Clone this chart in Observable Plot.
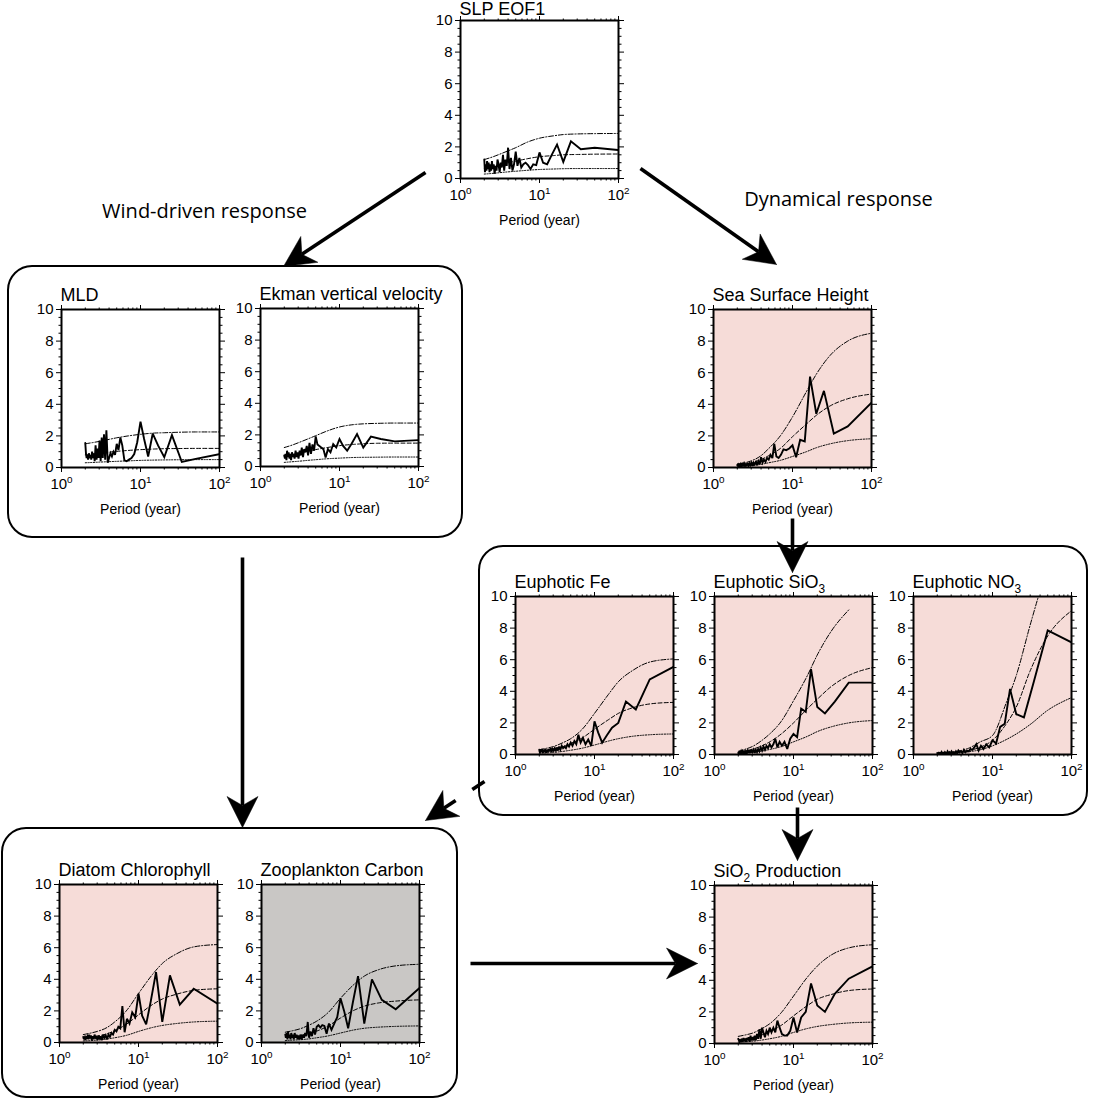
<!DOCTYPE html>
<html><head><meta charset="utf-8">
<script src="https://cdn.jsdelivr.net/npm/d3@7"></script>
<script src="https://cdn.jsdelivr.net/npm/@observablehq/plot@0.6"></script>
<style>
html,body{margin:0;padding:0;background:#fff;}
#fig{position:relative;width:1093px;height:1099px;overflow:hidden;background:#fff;}
#fig > div{position:absolute;}
</style></head><body><div id="fig"></div>
<script>
// ---------- data ----------
// spectral periods (years) of the solid spectrum, k = 1..50 cycles per 100 years
const periods = [100,50,33.33,25,20,16.67,14.29,12.5,11.11,10,9.09,8.33,7.69,7.14,6.67,6.25,5.88,5.56,5.26,5,
  4.76,4.55,4.35,4.17,4,3.85,3.7,3.57,3.45,3.33,3.23,3.13,3.03,2.94,2.86,2.78,2.7,2.63,2.56,2.5,
  2.44,2.38,2.33,2.27,2.22,2.17,2.13,2.08,2.04,2];
// periods at which the smooth reference curves are read
const curvePeriods = [2,2.5,3,4,5,7,10,15,20,30,50,100];
const yMajor = [0,2,4,6,8,10];
const yMinor = [0.5,1,1.5,2.5,3,3.5,4.5,5,5.5,6.5,7,7.5,8.5,9,9.5];
const xMajor = [1,10,100];
const xMinor = [2,3,4,5,6,7,8,9,20,30,40,50,60,70,80,90];

const slpSpec = [1.8,1.95,1.85,2.35,1.05,2.15,1.5,0.9,1.0,1.65,0.85,0.9,0.6,0.85,1.0,0.9,0.7,1.3,0.8,1.7,0.9,0.5,1.3,0.6,1.95,0.8,1.2,0.5,1.5,0.7,1.0,0.4,0.9,1.2,0.5,0.8,0.3,0.9,0.6,1.1,0.5,0.9,0.4,1.0,0.6,1.1,0.5,0.9,0.4,1.2];
const slpU = [1.2,1.35,1.5,1.75,1.95,2.3,2.55,2.7,2.78,2.82,2.84,2.85];
const slpM = [0.65,0.75,0.85,1.0,1.1,1.25,1.38,1.45,1.5,1.52,1.54,1.55];
const slpL = [0.28,0.32,0.36,0.42,0.46,0.52,0.57,0.6,0.62,0.63,0.63,0.63];

const mldSpec = [0.85,0.55,0.35,2.05,0.65,1.4,2.15,0.7,1.8,2.9,1.6,0.85,0.6,0.5,0.4,0.45,1.4,1.9,1.1,1.5,0.8,1.0,0.7,0.9,0.6,0.3,2.35,0.5,2.1,0.6,1.9,0.4,1.7,0.6,1.2,0.5,1.4,0.4,0.9,0.6,1.0,0.5,0.8,0.7,0.9,0.5,0.8,0.6,0.9,1.55];
const mldU = [1.5,1.58,1.65,1.78,1.88,2.0,2.1,2.18,2.2,2.23,2.25,2.25];
const mldM = [0.8,0.85,0.9,0.97,1.02,1.08,1.13,1.17,1.19,1.2,1.21,1.21];
const mldL = [0.3,0.32,0.34,0.37,0.39,0.42,0.45,0.47,0.48,0.49,0.5,0.5];

const ekSpec = [1.67,1.59,1.74,1.89,1.2,2.05,1.46,1.0,1.3,1.74,1.2,1.42,0.9,1.1,0.57,1.1,1.2,1.3,1.4,1.9,1.0,1.4,0.8,1.5,0.7,1.3,0.9,1.1,0.6,1.2,0.7,1.0,0.5,0.9,0.6,1.0,0.5,0.8,0.6,0.9,0.4,0.8,0.5,0.9,0.6,1.0,0.4,0.8,0.5,0.7];
const ekU = [1.2,1.35,1.5,1.75,1.95,2.25,2.5,2.65,2.7,2.73,2.75,2.75];
const ekM = [0.65,0.75,0.83,0.97,1.07,1.2,1.32,1.4,1.44,1.47,1.48,1.48];
const ekL = [0.26,0.3,0.33,0.39,0.43,0.49,0.53,0.57,0.58,0.59,0.6,0.6];

const sshSpec = [4.1,2.6,2.15,4.85,3.4,5.75,1.65,1.75,0.65,1.4,1.2,1.1,1.15,0.8,0.6,0.7,1.5,0.6,0.8,0.5,0.6,0.35,0.5,0.3,0.65,0.2,0.4,0.15,0.35,0.2,0.3,0.1,0.3,0.15,0.25,0.1,0.3,0.15,0.2,0.1,0.25,0.1,0.3,0.1,0.2,0.05,0.25,0.1,0.2,0.15];
const sshU = [0.2,0.3,0.42,0.75,1.2,2.0,3.2,4.8,5.9,7.1,8.0,8.5];
const sshM = [0.12,0.2,0.3,0.5,0.75,1.2,1.95,2.75,3.3,3.9,4.35,4.65];
const sshL = [0.05,0.08,0.12,0.2,0.3,0.45,0.7,1.0,1.25,1.5,1.7,1.82];

const feSpec = [5.55,4.75,2.85,3.35,2.0,1.7,1.2,0.75,1.4,2.1,0.55,0.95,0.65,1.05,0.75,1.25,0.65,0.85,0.55,0.75,0.5,0.65,0.4,0.5,0.4,0.55,0.3,0.5,0.25,0.45,0.2,0.4,0.25,0.35,0.15,0.4,0.2,0.35,0.15,0.3,0.1,0.35,0.15,0.3,0.1,0.35,0.15,0.3,0.1,0.3];
const feU = [0.3,0.4,0.5,0.75,1.0,1.6,2.6,3.8,4.6,5.3,5.85,6.05];
const feM = [0.2,0.27,0.35,0.5,0.7,1.05,1.6,2.2,2.6,2.95,3.2,3.3];
const feL = [0.07,0.1,0.13,0.2,0.27,0.4,0.6,0.85,1.0,1.15,1.25,1.3];

const sio3Spec = [4.55,4.55,3.35,2.6,3.0,5.4,2.7,2.9,1.1,1.3,1.0,0.35,0.8,0.55,0.8,0.45,1.0,0.65,0.45,0.65,0.4,0.55,0.3,0.5,0.25,0.45,0.2,0.35,0.15,0.3,0.1,0.3,0.15,0.25,0.1,0.3,0.1,0.25,0.1,0.2,0.05,0.25,0.1,0.2,0.05,0.2,0.1,0.15,0.05,0.1];
const sio3U = [0.2,0.35,0.5,0.9,1.3,2.1,3.4,5.0,6.3,7.8,9.15,null];
const sio3M = [0.13,0.22,0.33,0.55,0.8,1.3,2.0,2.9,3.5,4.3,5.0,5.5];
const sio3L = [0.05,0.08,0.13,0.22,0.32,0.5,0.8,1.15,1.45,1.75,2.0,2.15];

const no3Spec = [7.1,7.85,4.6,2.35,2.55,4.15,1.95,1.75,0.7,0.9,0.45,0.65,0.35,0.55,0.25,0.65,0.45,0.3,0.35,0.2,0.25,0.15,0.3,0.1,0.2,0.15,0.25,0.1,0.2,0.05,0.15,0.1,0.2,0.05,0.15,0.1,0.2,0.05,0.1,0.15,0.05,0.1,0.05,0.15,0.05,0.1,0.05,0.1,0.05,0.1];
const no3U = [0.05,0.08,0.12,0.25,0.4,0.8,1.2,3.3,5.0,8.2,12,null];
const no3M = [0.03,0.05,0.08,0.15,0.25,0.46,0.9,1.95,3.0,5.3,7.5,9.1];
const no3L = [0.02,0.03,0.05,0.1,0.17,0.3,0.55,0.95,1.3,1.9,2.8,3.6];

const diaSpec = [2.45,3.4,2.4,4.25,1.3,4.45,2.6,1.15,1.7,3.1,1.6,1.9,1.2,1.5,0.65,2.3,0.9,1.0,0.7,0.8,0.5,0.6,0.35,0.5,0.2,0.45,0.3,0.5,0.15,0.4,0.2,0.45,0.15,0.35,0.3,0.5,0.2,0.4,0.15,0.45,0.25,0.5,0.2,0.4,0.3,0.35,0.15,0.3,0.2,0.35];
const diaU = [0.5,0.6,0.7,0.95,1.3,2.0,3.1,4.3,5.0,5.6,6.05,6.2];
const diaM = [0.27,0.32,0.4,0.55,0.75,1.15,1.75,2.4,2.75,3.05,3.3,3.4];
const diaL = [0.1,0.12,0.15,0.22,0.3,0.45,0.7,0.95,1.08,1.2,1.3,1.35];

const zooSpec = [3.45,2.1,2.7,4.0,1.2,4.2,2.5,0.9,2.0,2.8,1.6,1.2,0.8,1.2,0.55,1.05,1.1,0.95,1.1,1.0,0.5,0.9,0.4,0.7,0.3,1.3,0.4,0.6,0.3,0.5,0.2,0.5,0.2,0.4,0.2,0.5,0.3,0.6,0.2,0.5,0.3,0.6,0.2,0.5,0.3,0.7,0.2,0.6,0.3,0.5];
const zooU = [0.65,0.75,0.85,1.1,1.35,1.9,2.8,3.7,4.2,4.6,4.85,4.95];
const zooM = [0.35,0.4,0.45,0.57,0.72,1.05,1.55,2.05,2.3,2.5,2.62,2.7];
const zooL = [0.12,0.15,0.17,0.23,0.3,0.42,0.6,0.8,0.9,0.97,1.02,1.05];

const prodSpec = [4.88,4.1,3.15,2.0,2.4,3.8,2.0,1.65,0.7,1.65,0.8,0.5,0.5,0.6,1.0,1.45,0.7,1.0,0.7,1.0,0.6,0.8,0.4,0.7,1.0,0.3,0.9,0.3,0.6,0.2,0.5,0.2,0.4,0.2,0.5,0.1,0.4,0.2,0.35,0.1,0.3,0.15,0.35,0.1,0.3,0.1,0.25,0.1,0.2,0.3];
const prodU = [0.45,0.55,0.65,0.95,1.25,1.95,3.0,4.2,4.9,5.6,6.05,6.25];
const prodM = [0.25,0.3,0.38,0.55,0.75,1.15,1.75,2.4,2.8,3.1,3.35,3.45];
const prodL = [0.09,0.11,0.14,0.22,0.3,0.45,0.7,0.95,1.08,1.2,1.3,1.35];

const PINK = "#f6dcd8", GRAY = "#c9c7c5";

// panels: title, series, background, and plot-frame position on the page
const panels = [
  {title:"SLP EOF1", spec:slpSpec, u:slpU, m:slpM, l:slpL, fill:null, left:460, top:20, tdy:-6},
  {title:"MLD", spec:mldSpec, u:mldU, m:mldM, l:mldL, fill:null, left:61, top:309, tdy:-8.5},
  {title:"Ekman vertical velocity", spec:ekSpec, u:ekU, m:ekM, l:ekL, fill:null, left:260, top:308, tdy:-8.5},
  {title:"Sea Surface Height", spec:sshSpec, u:sshU, m:sshM, l:sshL, fill:PINK, left:713, top:309, tdy:-8.5},
  {title:"Euphotic Fe", spec:feSpec, u:feU, m:feM, l:feL, fill:PINK, left:515, top:596, tdy:-8.5},
  {title:"Euphotic SiO_3", spec:sio3Spec, u:sio3U, m:sio3M, l:sio3L, fill:PINK, left:714, top:596, tdy:-8.5},
  {title:"Euphotic NO_3", spec:no3Spec, u:no3U, m:no3M, l:no3L, fill:PINK, left:913, top:596, tdy:-8.5},
  {title:"Diatom Chlorophyll", spec:diaSpec, u:diaU, m:diaM, l:diaL, fill:PINK, left:59, top:884, tdy:-8.5},
  {title:"Zooplankton Carbon", spec:zooSpec, u:zooU, m:zooM, l:zooL, fill:GRAY, left:261, top:884, tdy:-8.5},
  {title:"SiO_2 Production", spec:prodSpec, u:prodU, m:prodM, l:prodL, fill:PINK, left:714, top:885, tdy:-8.5}
];

// schematic layout: rounded boxes, arrows, labels
const boxes = [
  {x1:8, y1:266, x2:462, y2:537},
  {x1:479, y1:546, x2:1087, y2:815},
  {x1:2, y1:828, x2:457, y2:1097}
];
const arrows = [
  {x1:425, y1:172, x2:283, y2:266},
  {x1:640, y1:168, x2:776, y2:264},
  {x1:242, y1:557, x2:242, y2:827},
  {x1:792, y1:518, x2:792, y2:572},
  {x1:484, y1:781, x2:425, y2:820, gaps:[[0.3,0.71]]},
  {x1:797, y1:807, x2:797, y2:860},
  {x1:470, y1:963, x2:697, y2:963}
];
const labels = [
  {x:204, y:211, text:"Wind-driven response"},
  {x:838, y:199, text:"Dynamical response"}
];

// ---------- drawing ----------
const FONT = "'Liberation Sans', Arial, Helvetica, sans-serif";
const FW = 158, FH = 158, ML = 40, MR = 14, MT = 30, MB = 54;
const TICK_FS = 15, TITLE_FS = 18, XLAB_FS = 14;
const fig = document.getElementById("fig");

function rich(el) {
  const s = el.textContent;
  if (!/[\^_]\d/.test(s)) return;
  const parts = s.split(/([\^_]\d)/).filter(Boolean);
  el.textContent = "";
  let shift = 0;
  const fs = parseFloat(el.getAttribute("data-fs")) || 15;
  for (const part of parts) {
    const t = document.createElementNS("http://www.w3.org/2000/svg", "tspan");
    if (part[0] === "^" || part[0] === "_") {
      const ns = part[0] === "^" ? -0.4 * fs : 0.3 * fs;
      t.setAttribute("dy", ns - shift); shift = ns;
      t.setAttribute("font-size", (0.66 * fs).toFixed(1));
      t.textContent = part.slice(1);
    } else {
      t.setAttribute("dy", -shift); shift = 0;
      t.textContent = part;
    }
    el.appendChild(t);
  }
}

for (const p of panels) {
  const spec = periods.map((x, i) => ({x, y: p.spec[i]}));
  const cur = arr => curvePeriods.map((x, i) => ({x, y: arr[i]})).filter(d => d.y != null);
  const noLab = () => "";
  const plot = Plot.plot({
    width: ML + FW + MR, height: MT + FH + MB,
    marginLeft: ML, marginRight: MR, marginTop: MT, marginBottom: MB,
    style: {background: "transparent", fontFamily: FONT, fontSize: TICK_FS + "px", color: "black", overflow: "visible"},
    x: {type: "log", domain: [1, 100], axis: null, label: null},
    y: {domain: [0, 10], axis: null, label: null},
    marks: [
      p.fill ? Plot.frame({fill: p.fill, stroke: "none"}) : null,
      Plot.line(cur(p.u), {x: "x", y: "y", curve: "monotone-x", stroke: "black", strokeWidth: 1, strokeDasharray: "5,1.8,1.2,1.8", clip: true}),
      Plot.line(cur(p.m), {x: "x", y: "y", curve: "monotone-x", stroke: "black", strokeWidth: 1, strokeDasharray: "4,2.2", clip: true}),
      Plot.line(cur(p.l), {x: "x", y: "y", curve: "monotone-x", stroke: "black", strokeWidth: 1, strokeDasharray: "1.2,1.5", clip: true}),
      Plot.line(spec, {x: "x", y: "y", stroke: "black", strokeWidth: 1.9, strokeLinejoin: "miter", strokeMiterlimit: 3, clip: true}),
      Plot.frame({stroke: "black", strokeWidth: 2}),
      Plot.axisY(yMajor, {anchor: "left", tickSize: 5, tickPadding: 3, fontSize: TICK_FS, label: null}),
      Plot.axisY(yMinor, {anchor: "left", tickSize: 2.5, tickFormat: noLab, label: null}),
      Plot.axisY(yMajor, {anchor: "right", tickSize: 5, tickFormat: noLab, label: null}),
      Plot.axisY(yMinor, {anchor: "right", tickSize: 2.5, tickFormat: noLab, label: null}),
      Plot.axisX(xMajor, {anchor: "bottom", tickSize: 5, tickPadding: 6, fontSize: TICK_FS, label: null,
        tickFormat: d => "10^" + Math.round(Math.log10(d))}),
      Plot.axisX(xMinor, {anchor: "bottom", tickSize: 2.5, tickFormat: noLab, label: null}),
      Plot.axisX(xMajor, {anchor: "top", tickSize: 5, tickFormat: noLab, label: null}),
      Plot.axisX(xMinor, {anchor: "top", tickSize: 2.5, tickFormat: noLab, label: null}),
      Plot.text([p.title], {frameAnchor: "top-left", dx: -1, dy: p.tdy, textAnchor: "start", lineAnchor: "bottom", fontSize: TITLE_FS, fill: "black"}),
      Plot.text(["Period (year)"], {frameAnchor: "bottom", dy: 42, lineAnchor: "middle", fontSize: XLAB_FS, fill: "black"})
    ]
  });
  // enforce font sizes on every text element and apply super/subscripts
  plot.querySelectorAll("text").forEach(el => {
    const s = el.textContent;
    let fs = TICK_FS;
    if (s === p.title) fs = TITLE_FS;
    else if (s === "Period (year)") fs = XLAB_FS;
    el.setAttribute("font-size", fs);
    el.style.fontSize = fs + "px";
    el.setAttribute("data-fs", fs);
    rich(el);
  });
  const div = document.createElement("div");
  div.style.left = (p.left - ML) + "px";
  div.style.top = (p.top - MT) + "px";
  div.appendChild(plot);
  fig.appendChild(div);
}

// arrowheads (stealth shape) and shafts computed from the arrow list
const HEAD_L = 31, HEAD_W = 15.5, NOTCH = 22;
const heads = [], shafts = [];
arrows.forEach((a, i) => {
  const dx = a.x2 - a.x1, dy = a.y2 - a.y1, len = Math.hypot(dx, dy);
  const ux = dx / len, uy = dy / len, px = -uy, py = ux;
  const bx = a.x2 - HEAD_L * ux, by = a.y2 - HEAD_L * uy;
  const nx = a.x2 - NOTCH * ux, ny = a.y2 - NOTCH * uy;
  heads.push({i, x: a.x2, y: a.y2}, {i, x: bx + HEAD_W * px, y: by + HEAD_W * py},
             {i, x: nx, y: ny}, {i, x: bx - HEAD_W * px, y: by - HEAD_W * py}, {i, x: a.x2, y: a.y2});
  let pieces = [[0, 1]];
  for (const g of (a.gaps || [])) pieces = pieces.flatMap(([s, e]) => [[s, Math.min(e, g[0])], [Math.max(s, g[1]), e]].filter(([u, v]) => v > u));
  for (const [s, e] of pieces) shafts.push({
    x1: a.x1 + (nx - a.x1) * s, y1: a.y1 + (ny - a.y1) * s,
    x2: a.x1 + (nx - a.x1) * e, y2: a.y1 + (ny - a.y1) * e
  });
});

const overlay = Plot.plot({
  width: 1093, height: 1099, margin: 0,
  style: {background: "transparent", overflow: "visible"},
  x: {domain: [0, 1093], range: [0, 1093], axis: null},
  y: {domain: [0, 1099], range: [0, 1099], axis: null},
  marks: [
    Plot.rect(boxes, {x1: "x1", y1: "y1", x2: "x2", y2: "y2", rx: 24, fill: "none", stroke: "black", strokeWidth: 2}),
    Plot.link(shafts, {x1: "x1", y1: "y1", x2: "x2", y2: "y2", stroke: "black", strokeWidth: 3.6}),
    Plot.line(heads, {x: "x", y: "y", z: "i", fill: "black", stroke: "black", strokeWidth: 0.5}),
    Plot.text(labels, {x: "x", y: "y", text: "text", fontSize: 20, fontFamily: "'Open Sans', sans-serif", fill: "black"})
  ]
});
const od = document.createElement("div");
od.style.left = "0px"; od.style.top = "0px"; od.style.pointerEvents = "none";
od.appendChild(overlay);
fig.appendChild(od);
</script>
</body></html>
